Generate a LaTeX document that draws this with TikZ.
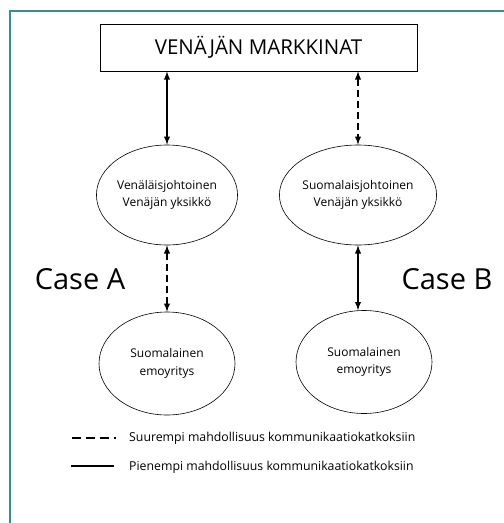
\documentclass[tikz,border=0pt]{standalone}
\usepackage{fontspec}
\setmainfont{Open Sans}
\usepackage{tikz}
\usetikzlibrary{arrows}
\usetikzlibrary{shapes,calc}
\definecolor{framecol}{RGB}{61,140,140}
\tikzstyle{market} = [draw, line width=0.8pt, minimum width=317pt, minimum height=47pt, inner sep=0pt, font=\fontsize{20.5}{24}\selectfont]
\tikzstyle{unit} = [ellipse, draw, line width=0.6pt, minimum width=131pt, minimum height=100pt, inner sep=0pt, align=center, font=\fontsize{12}{17}\selectfont]
\tikzstyle{parent} = [ellipse, draw, line width=0.6pt, minimum width=136pt, minimum height=103pt, inner sep=0pt, align=center, font=\fontsize{12}{17.5}\selectfont]
\tikzstyle{link} = [latex-latex, line width=1.8pt]
\tikzstyle{weak} = [link, dash pattern=on 7pt off 4pt]
\tikzstyle{case} = [font=\fontsize{29}{34}\selectfont]
\tikzstyle{legend} = [anchor=west, inner sep=0pt, font=\fontsize{12.3}{14}\selectfont]

\begin{document}
\begin{tikzpicture}[x=1pt,y=-1pt]
\useasboundingbox (0,0) rectangle (504,523);
\draw[framecol, line width=2pt] (10,523) -- (10,11) -- (504,11);

    \node[market] (mkt) at (258.5,47.5) {VENÄJÄN MARKKINAT};

	\node[unit] (venA) at (167,195) {Venäläisjohtoinen\\Venäjän yksikkö};
	\node[unit] (venB) at (358,195) {Suomalaisjohtoinen\\Venäjän yksikkö};

	\node[parent] (emoA) at (167,363.5) {Suomalainen\\emoyritys};
	\node[parent] (emoB) at (364,362) {Suomalainen\\emoyritys};

    \node[case] (caseA) at (80,279) {Case A};
    \node[case] (caseB) at (447,279) {Case B};

    \draw[link] (mkt.south -| venA.north) -- (venA.north);
    \draw[weak] (mkt.south -| venB.north) -- (venB.north);
    \draw[weak] (venA.south) -- (venA.south |- emoA.north);
    \draw[link] (venB.south) -- (venB.south |- emoB.north);

    % selitteet
    \node[legend] (big) at (129,438) {Suurempi mahdollisuus kommunikaatiokatkoksiin};
    \node[legend] (small) at (129,467) {Pienempi mahdollisuus kommunikaatiokatkoksiin};
    \coordinate (bigL) at (72,438);
    \coordinate (smallL) at (71,466);
    \draw[line width=1.8pt, dash pattern=on 9pt off 5pt] (bigL) -- ($(big.west)+(-13,0)$);
    \draw[line width=1.2pt] (smallL) -- ($(small.west)+(-15,-1)$);
\end{tikzpicture}
\end{document}
